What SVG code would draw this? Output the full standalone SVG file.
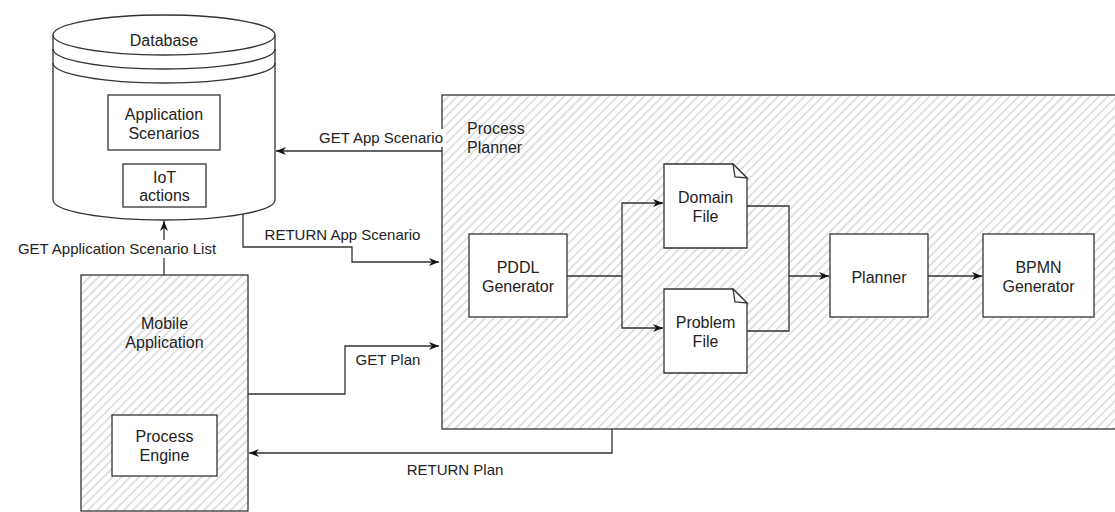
<svg xmlns="http://www.w3.org/2000/svg" width="1115" height="512" viewBox="0 0 1115 512">
<style>
.box{fill:#fff;stroke:#333;stroke-width:1.3}
.hatch{fill:url(#hatch);stroke:#333;stroke-width:1.3}
.edge{fill:none;stroke:#333;stroke-width:1.3}
.lbl{font-family:"Liberation Sans",Arial,sans-serif;font-size:16px;fill:#222;text-anchor:middle}
.elbl{font-family:"Liberation Sans",Arial,sans-serif;font-size:15px;fill:#222;text-anchor:middle}
.bg{fill:#fff;stroke:none}
</style>
<defs>
<pattern id="hatch" patternUnits="userSpaceOnUse" width="6.3" height="6.3" patternTransform="rotate(45)">
<rect width="6.3" height="6.3" fill="#fff"/>
<line x1="1" y1="0" x2="1" y2="6.3" stroke="#d4d4d4" stroke-width="1.4"/>
</pattern>
<marker id="arr" viewBox="0 0 10 8" refX="10" refY="4" markerWidth="10" markerHeight="8" markerUnits="userSpaceOnUse" orient="auto">
<path d="M0,0 L10,4 L0,8 L3,4 Z" fill="#111"/>
</marker>
</defs>

<g id="process-planner">
<rect class="hatch" x="442" y="95" width="700" height="334"/>
<text x="467" y="133.7" font-family="Liberation Sans, Arial, sans-serif" font-size="16" fill="#222">Process</text>
<text x="467" y="152.7" font-family="Liberation Sans, Arial, sans-serif" font-size="16" fill="#222">Planner</text>
</g>

<g id="mobile-application">
<rect class="hatch" x="81" y="275" width="167" height="236"/>
<text class="lbl" x="164.5" y="328.7">Mobile</text>
<text class="lbl" x="164.5" y="347.7">Application</text>
</g>

<g id="database">
<path class="box" d="M53,35 A111,20 0 0 1 275,35 V200 A111,20 0 0 1 53,200 Z"/>
<path class="edge" d="M53,35 A111,20 0 0 0 275,35 M53,49 A111,20 0 0 0 275,49 M53,63 A111,20 0 0 0 275,63"/>
<text class="lbl" x="164" y="45.7">Database</text>
</g>

<g id="application-scenarios">
<rect class="box" x="108" y="95" width="112" height="55"/>
<text class="lbl" x="164" y="119.7">Application</text>
<text class="lbl" x="164" y="138.7">Scenarios</text>
</g>

<g id="iot-actions">
<rect class="box" x="123" y="164" width="83" height="43"/>
<text class="lbl" x="164.5" y="182.7">IoT</text>
<text class="lbl" x="164.5" y="200.7">actions</text>
</g>

<g id="process-engine">
<rect class="box" x="112" y="415" width="105" height="61"/>
<text class="lbl" x="164.5" y="441.7">Process</text>
<text class="lbl" x="164.5" y="460.7">Engine</text>
</g>

<g id="pddl-generator">
<rect class="box" x="469" y="234" width="98" height="83"/>
<text class="lbl" x="518" y="272.7">PDDL</text>
<text class="lbl" x="518" y="291.7">Generator</text>
</g>

<g id="domain-file">
<path class="box" d="M664,164 H733 L747,178 V248 H664 Z"/>
<path class="box" d="M733,164 L735,177 L747,178 Z"/>
<text class="lbl" x="705.5" y="202.7">Domain</text>
<text class="lbl" x="705.5" y="221.7">File</text>
</g>

<g id="problem-file">
<path class="box" d="M664,289 H733 L747,303 V373 H664 Z"/>
<path class="box" d="M733,289 L735,302 L747,303 Z"/>
<text class="lbl" x="705.5" y="327.7">Problem</text>
<text class="lbl" x="705.5" y="346.7">File</text>
</g>

<g id="planner">
<rect class="box" x="830" y="234" width="98" height="83"/>
<text class="lbl" x="879" y="282.7">Planner</text>
</g>

<g id="bpmn-generator">
<rect class="box" x="983" y="234" width="111" height="83"/>
<text class="lbl" x="1038.5" y="272.7">BPMN</text>
<text class="lbl" x="1038.5" y="291.7">Generator</text>
</g>

<g id="connectors">
<path class="edge" d="M442,151 H276" marker-end="url(#arr)"/>
<path class="edge" d="M243,214 V247 H352 V262 H439" marker-end="url(#arr)"/>
<path class="edge" d="M164,275 V221" marker-end="url(#arr)"/>
<path class="edge" d="M248,394 H345 V346 H439" marker-end="url(#arr)"/>
<path class="edge" d="M612,429 V453 H249" marker-end="url(#arr)"/>
<path class="edge" d="M567,276 H622 V203 H663" marker-end="url(#arr)"/>
<path class="edge" d="M622,276 V328 H663" marker-end="url(#arr)"/>
<path class="edge" d="M747,206 H789 V276 H829" marker-end="url(#arr)"/>
<path class="edge" d="M747,331 H789 V276"/>
<path class="edge" d="M928,276 H982" marker-end="url(#arr)"/>

<rect class="bg" x="316" y="129" width="130" height="18"/>
<text class="elbl" x="381" y="143.4">GET App Scenario</text>
<text class="elbl" x="342.5" y="240.4">RETURN App Scenario</text>
<rect class="bg" x="10" y="240" width="214" height="18"/>
<text class="elbl" x="117" y="254.4">GET Application Scenario List</text>
<text class="elbl" x="388" y="365.4">GET Plan</text>
<text class="elbl" x="455" y="475.4">RETURN Plan</text>
</g>
</svg>
